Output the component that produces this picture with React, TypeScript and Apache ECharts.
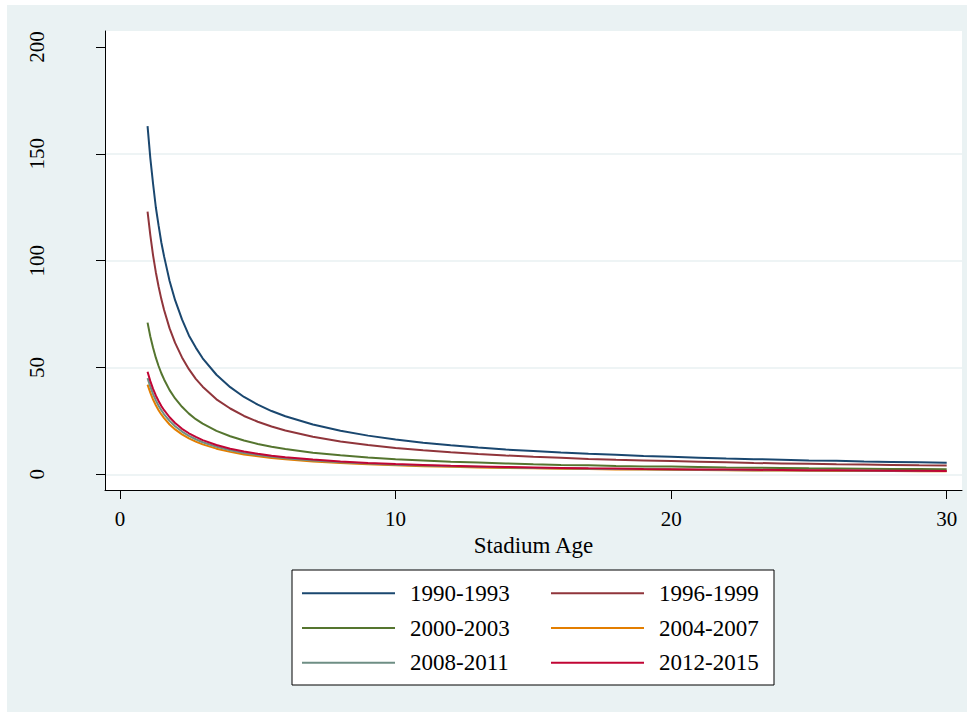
import React, { useEffect, useRef } from "react";
import * as echarts from "echarts";

const ages = [1, 1.1, 1.2, 1.3, 1.4, 1.5, 1.6, 1.8, 2, 2.25, 2.5, 2.75, 3, 3.5, 4, 4.5, 5, 5.5, 6, 7, 8, 9, 10, 11, 12, 13, 14, 15, 16, 17, 18, 19, 20, 21, 22, 23, 24, 25, 26, 27, 28, 29, 30];

const s1990 = [163, 148, 136, 125, 116.5, 108.5, 102, 90.5, 81.5, 72.5, 65, 59.3, 54.3, 46.6, 40.8, 36.2, 32.6, 29.6, 27.2, 23.3, 20.4, 18.1, 16.3, 14.8, 13.6, 12.5, 11.6, 10.9, 10.2, 9.6, 9.1, 8.6, 8.2, 7.8, 7.4, 7.1, 6.8, 6.5, 6.3, 6.0, 5.8, 5.6, 5.4];
const s1996 = [123, 112, 102.5, 94.6, 87.9, 82, 76.9, 68.3, 61.5, 54.7, 49.2, 44.7, 41, 35.1, 30.8, 27.3, 24.6, 22.4, 20.5, 17.6, 15.4, 13.7, 12.3, 11.2, 10.3, 9.5, 8.8, 8.2, 7.7, 7.2, 6.8, 6.5, 6.2, 5.9, 5.6, 5.3, 5.1, 4.9, 4.7, 4.6, 4.4, 4.2, 4.1];
const s2000 = [71, 64.5, 59.2, 54.6, 50.7, 47.3, 44.4, 39.4, 35.5, 31.6, 28.4, 25.8, 23.7, 20.3, 17.8, 15.8, 14.2, 12.9, 11.8, 10.1, 8.9, 7.9, 7.1, 6.5, 5.9, 5.5, 5.1, 4.7, 4.4, 4.2, 3.9, 3.7, 3.6, 3.4, 3.2, 3.1, 3.0, 2.8, 2.7, 2.6, 2.5, 2.45, 2.4];
const s2004 = [42, 38.2, 35, 32.3, 30, 28, 26.3, 23.3, 21, 18.7, 16.8, 15.3, 14, 12, 10.5, 9.3, 8.4, 7.6, 7, 6, 5.3, 4.7, 4.2, 3.8, 3.5, 3.2, 3.0, 2.8, 2.6, 2.5, 2.3, 2.2, 2.1, 2.0, 1.9, 1.8, 1.75, 1.7, 1.6, 1.55, 1.5, 1.45, 1.4];
const s2008 = [45, 41, 37.5, 34.6, 32.1, 30, 28.1, 25, 22.5, 20, 18, 16.4, 15, 12.9, 11.3, 10, 9, 8.2, 7.5, 6.4, 5.6, 5, 4.5, 4.1, 3.75, 3.5, 3.2, 3.0, 2.8, 2.65, 2.5, 2.4, 2.25, 2.15, 2.05, 1.95, 1.9, 1.8, 1.75, 1.7, 1.6, 1.55, 1.5];
const s2012 = [48, 43.6, 40, 36.9, 34.3, 32, 30, 26.7, 24, 21.3, 19.2, 17.5, 16, 13.7, 12, 10.7, 9.6, 8.7, 8, 6.9, 6, 5.3, 4.8, 4.4, 4, 3.7, 3.4, 3.2, 3.0, 2.8, 2.7, 2.5, 2.4, 2.3, 2.2, 2.1, 2.0, 1.9, 1.85, 1.8, 1.7, 1.65, 1.6];

const seriesNames = ["1990-1993", "1996-1999", "2000-2003", "2004-2007", "2008-2011", "2012-2015"];
const seriesValues = [s1990, s1996, s2000, s2004, s2008, s2012];
const seriesColors = ["#1a476f", "#90353b", "#55752f", "#e37e00", "#6e8e84", "#c10534"];

const legendCol1 = ["1990-1993", "2000-2003", "2008-2011"];
const legendCol2 = ["1996-1999", "2004-2007", "2012-2015"];

const xTicks = [0, 10, 20, 30];
const yTicks = [0, 50, 100, 150, 200];
const yGridLines = [0, 50, 100, 150];

const FONT = "Liberation Serif";

export default function App() {
  const ref = useRef<HTMLDivElement>(null);
  useEffect(() => {
    if (!ref.current) return;
    const chart = echarts.init(ref.current, undefined, { renderer: "svg" });
    const legendCommon = {
      orient: "vertical",
      top: 581.3,
      padding: 0,
      icon: "rect",
      itemWidth: 93,
      itemHeight: 2,
      itemGap: 10.7,
      textStyle: { fontFamily: FONT, fontSize: 23, color: "#000", lineHeight: 24, padding: [0, 0, 0, 10] },
    };
    chart.setOption({
      animation: false,
      color: seriesColors,
      textStyle: { fontFamily: FONT },
      graphic: [
        {
          type: "rect",
          shape: { x: 292, y: 570, width: 482, height: 115 },
          style: { fill: "#fff", stroke: "#000", lineWidth: 1 },
          silent: true,
        },
      ],
      grid: {
        left: 105,
        top: 31,
        width: 857,
        height: 459,
        show: true,
        backgroundColor: "#fff",
        borderWidth: 0,
      },
      xAxis: {
        type: "value",
        min: -0.5443,
        max: 30.555,
        name: "Stadium Age",
        nameLocation: "middle",
        nameGap: 42,
        nameTextStyle: { fontFamily: FONT, fontSize: 23, color: "#000" },
        axisLine: { show: true, onZero: false, lineStyle: { color: "#000", width: 1 } },
        axisTick: { show: true, length: 9, lineStyle: { color: "#000" }, customValues: xTicks },
        axisLabel: { fontFamily: FONT, fontSize: 21, color: "#000", margin: 18, customValues: xTicks },
        splitLine: { show: false },
      },
      yAxis: [
        {
          type: "value",
          min: -7.35,
          max: 207.5,
          axisLine: { show: true, onZero: false, lineStyle: { color: "#000", width: 1 } },
          axisTick: { show: true, length: 9, lineStyle: { color: "#000" }, customValues: yTicks },
          axisLabel: { fontFamily: FONT, fontSize: 21, color: "#000", rotate: 90, margin: 58, customValues: yTicks },
          splitLine: { show: false },
        },
        {
          type: "value",
          min: -7.35,
          max: 207.5,
          position: "left",
          axisLine: { show: false, onZero: false },
          axisTick: { show: false, customValues: yGridLines },
          axisLabel: { show: false, customValues: yGridLines },
          splitLine: { show: true, lineStyle: { color: "#E8F0F2", width: 1.5 } },
        },
      ],
      legend: [
        { ...legendCommon, left: 302, data: legendCol1 },
        { ...legendCommon, left: 551, data: legendCol2 },
      ],
      series: seriesNames.map((name, i) => ({
        name,
        type: "line",
        yAxisIndex: 0,
        data: ages.map((a, j) => [a, seriesValues[i][j]]),
        symbol: "none",
        smooth: false,
        lineStyle: { width: 2, color: seriesColors[i] },
        itemStyle: { color: seriesColors[i] },
      })),
    });
    return () => chart.dispose();
  }, []);
  return (
    <div style={{ position: "fixed", left: 0, top: 0, width: 974, height: 717, background: "#fff" }}>
      <div style={{ position: "absolute", left: 7, top: 5, width: 960, height: 707, background: "#EAF2F3" }} />
      <div ref={ref} style={{ position: "absolute", left: 0, top: 0, width: 974, height: 717 }} />
    </div>
  );
}
